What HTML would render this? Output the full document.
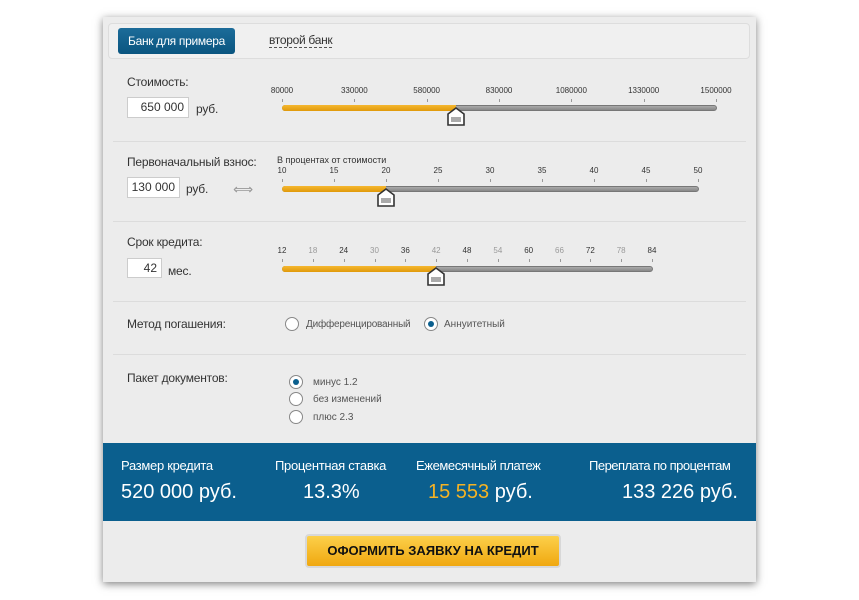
<!DOCTYPE html>
<html><head><meta charset="utf-8"><style>
*{margin:0;padding:0;box-sizing:border-box}
body{width:859px;height:600px;background:#fff;font-family:"Liberation Sans","DejaVu Sans",sans-serif;position:relative;overflow:hidden;color:#333}
.a{position:absolute}
#panel{left:103px;top:17px;width:653px;height:565px;background:#ececec;box-shadow:0 2px 8px rgba(0,0,0,.5)}
.hr{height:1px;background:#dcdcdc;left:113px;width:633px}
.lbl{font-size:12px;color:#333;letter-spacing:-0.2px}
.inp{background:#fff;border:1px solid #ccc;font-size:12px;text-align:right;padding-right:4px;line-height:19px}
.tk{font-size:8px;color:#333;transform:translateX(-50%)}
.tkg{color:#999}
.tm{width:1px;height:3px;background:#999}
.trk{height:6px;border-radius:3px;background:linear-gradient(#aaa,#888);border:1px solid #777}
.fill{height:6px;border-radius:3px 0 0 3px;background:linear-gradient(#f5b830,#e09a0a)}
.rd{width:14px;height:14px;border-radius:50%;background:#fff;border:1px solid #888}
.rd.on:after{content:"";position:absolute;left:3px;top:3px;width:6px;height:6px;border-radius:50%;background:#0b5f8e}
.w{color:#fff}
</style></head><body>
<div id="panel" class="a"></div>
<div class="a" style="left:108px;top:23px;width:642px;height:36px;background:#f0f0f0;border:1px solid #ddd;border-radius:4px"></div>
<div class="a" style="left:118px;top:28px;width:117px;height:26px;background:linear-gradient(#1c6c9a,#0a5580);border-radius:3px;color:#fff;font-size:12px;line-height:26px;text-align:center;letter-spacing:-0.3px">Банк для примера</div>
<div class="a" style="left:269px;top:34px;font-size:12px;color:#333;border-bottom:1px dashed #555;line-height:13px;letter-spacing:-0.3px">второй банк</div>

<div class="a lbl" style="left:127px;top:75px">Стоимость:</div>
<div class="a inp" style="left:127px;top:97px;width:62px;height:21px">650 000</div>
<div class="a lbl" style="left:196px;top:102px">руб.</div>
<div class="a trk" style="left:282px;top:105px;width:435px"></div>
<div class="a fill" style="left:282px;top:105px;width:174px"></div>

<div class="a hr" style="top:141px"></div>
<div class="a lbl" style="left:127px;top:155px">Первоначальный взнос:</div>
<div class="a" style="left:277px;top:155px;font-size:9px">В процентах от стоимости</div>
<div class="a inp" style="left:127px;top:177px;width:53px;height:21px">130 000</div>
<div class="a lbl" style="left:186px;top:182px">руб.</div>
<div class="a" style="left:233px;top:181px;font-size:14px;color:#999">⟺</div>
<div class="a trk" style="left:282px;top:186px;width:417px"></div>
<div class="a fill" style="left:282px;top:186px;width:104px"></div>

<div class="a hr" style="top:221px"></div>
<div class="a lbl" style="left:127px;top:235px">Срок кредита:</div>
<div class="a inp" style="left:127px;top:258px;width:35px;height:20px">42</div>
<div class="a lbl" style="left:168px;top:264px">мес.</div>
<div class="a trk" style="left:282px;top:266px;width:371px"></div>
<div class="a fill" style="left:282px;top:266px;width:154px"></div>

<div class="a hr" style="top:301px"></div>
<div class="a lbl" style="left:127px;top:317px">Метод погашения:</div>
<div class="a rd" style="left:285px;top:317px"></div>
<div class="a" style="left:306px;top:319px;font-size:10px;color:#555;letter-spacing:-0.2px">Дифференцированный</div>
<div class="a rd on" style="left:424px;top:317px"></div>
<div class="a" style="left:444px;top:319px;font-size:10px;color:#555">Аннуитетный</div>

<div class="a hr" style="top:354px"></div>
<div class="a lbl" style="left:127px;top:371px">Пакет документов:</div>
<div class="a rd on" style="left:289px;top:375px"></div>
<div class="a" style="left:313px;top:377px;font-size:10px;color:#555">минус 1.2</div>
<div class="a rd" style="left:289px;top:392px"></div>
<div class="a" style="left:313px;top:394px;font-size:10px;color:#555">без изменений</div>
<div class="a rd" style="left:289px;top:410px"></div>
<div class="a" style="left:313px;top:412px;font-size:10px;color:#555">плюс 2.3</div>

<div class="a" style="left:103px;top:443px;width:653px;height:78px;background:#0b5f8e"></div>
<div class="a w" style="left:121px;top:458px;font-size:13px;letter-spacing:-0.3px">Размер кредита</div>
<div class="a w" style="left:121px;top:481px;font-size:20px">520 000 руб.</div>
<div class="a w" style="left:275px;top:458px;font-size:13px;letter-spacing:-0.3px">Процентная ставка</div>
<div class="a w" style="left:303px;top:481px;font-size:20px">13.3%</div>
<div class="a w" style="left:416px;top:458px;font-size:13px;letter-spacing:-0.4px">Ежемесячный платеж</div>
<div class="a w" style="left:428px;top:481px;font-size:20px"><span style="color:#f5b324">15 553</span> руб.</div>
<div class="a w" style="left:589px;top:458px;font-size:13px;letter-spacing:-0.5px">Переплата по процентам</div>
<div class="a w" style="left:622px;top:481px;font-size:20px">133 226 руб.</div>

<div class="a" style="left:305px;top:534px;width:256px;height:34px;border:2px solid #d8d8d8;border-radius:4px;background:linear-gradient(#fcd04a,#f0a810);font-size:13px;font-weight:bold;color:#111;text-align:center;line-height:30px">ОФОРМИТЬ ЗАЯВКУ НА КРЕДИТ</div>

<div id="ticks"></div>
<script>
function T(y,x0,x1,labels,grey){var n=labels.length,h='';for(var i=0;i<n;i++){var x=x0+(x1-x0)*i/(n-1);var g=grey&&i%2==1?' tkg':'';h+='<div class="a tk'+g+'" style="left:'+x+'px;top:'+y+'px">'+labels[i]+'</div><div class="a tm" style="left:'+x+'px;top:'+(y+13)+'px"></div>';}document.getElementById('ticks').insertAdjacentHTML('beforeend',h);}
T(86,282,716,['80000','330000','580000','830000','1080000','1330000','1500000']);
T(166,282,698,['10','15','20','25','30','35','40','45','50']);
T(246,282,652,['12','18','24','30','36','42','48','54','60','66','72','78','84'],true);
function H(x,y){document.getElementById('ticks').insertAdjacentHTML('beforeend','<svg class="a" style="left:'+(x-9)+'px;top:'+y+'px" width="18" height="19"><path d="M9 1 L17 7 L17 18 L1 18 L1 7 Z" fill="#fff" stroke="#333" stroke-width="1.6"/><rect x="4" y="10" width="10" height="5" fill="#aaa"/></svg>');}
H(456,107);H(386,188);H(436,267);
</script>
</body></html>
